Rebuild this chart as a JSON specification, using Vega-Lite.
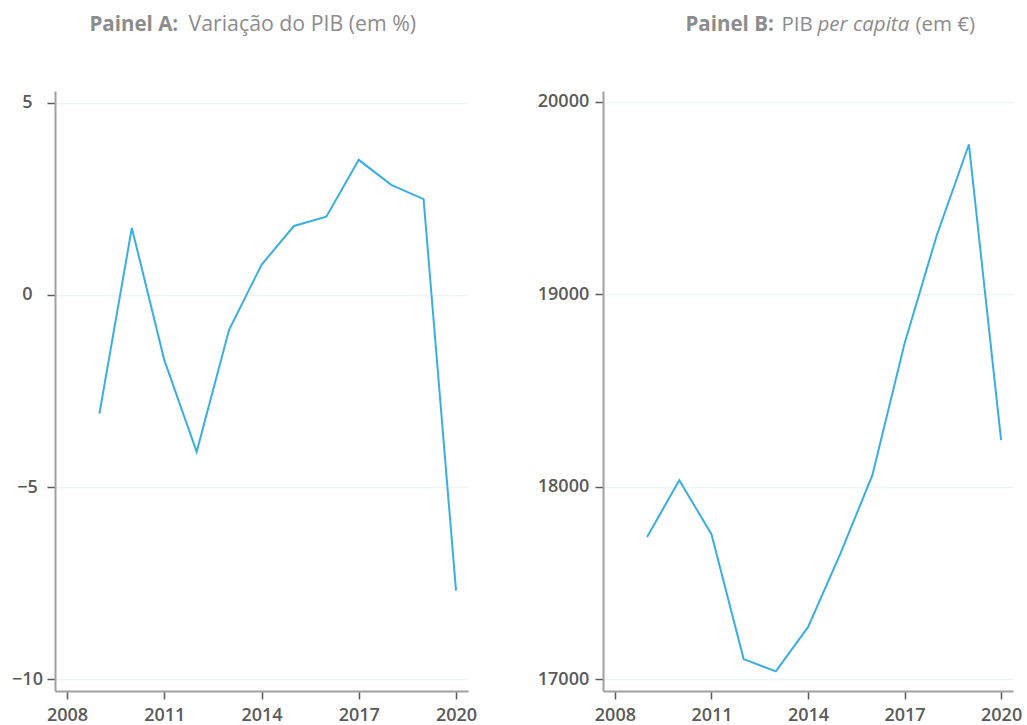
{
  "$schema": "https://vega.github.io/schema/vega-lite/v6.json",
  "padding": {"left": 11, "top": 13, "right": 0, "bottom": 0},
  "background": "white",
  "spacing": 60,
  "config": {
    "font": "Open Sans",
    "view": {"stroke": null},
    "axis": {
      "domainColor": "#a0a0a0",
      "domainWidth": 2,
      "tickColor": "#5a5a5a",
      "tickWidth": 1.5,
      "tickSize": 8,
      "labelFont": "Open Sans",
      "labelFontSize": 18,
      "labelFontWeight": 600,
      "labelColor": "#5a5a5a",
      "gridColor": "#eef4f4",
      "gridWidth": 1.5,
      "titleFont": "Open Sans",
      "titleFontSize": 20.5,
      "titleColor": "#8c8c8c"
    }
  },
  "datasets": {
    "pib": [
      {"ano": 2009, "var": -3.09, "pc": 17738},
      {"ano": 2010, "var": 1.74, "pc": 18034},
      {"ano": 2011, "var": -1.69, "pc": 17753},
      {"ano": 2012, "var": -4.08, "pc": 17104},
      {"ano": 2013, "var": -0.91, "pc": 17040},
      {"ano": 2014, "var": 0.78, "pc": 17270},
      {"ano": 2015, "var": 1.79, "pc": 17649},
      {"ano": 2016, "var": 2.03, "pc": 18060},
      {"ano": 2017, "var": 3.51, "pc": 18745},
      {"ano": 2018, "var": 2.86, "pc": 19306},
      {"ano": 2019, "var": 2.49, "pc": 19779},
      {"ano": 2020, "var": -7.69, "pc": 18242}
    ]
  },
  "hconcat": [
    {
      "width": 413,
      "height": 600,
      "data": {"name": "pib"},
      "resolve": {"axis": {"x": "independent", "y": "independent"}},
      "layer": [
        {
          "mark": {"type": "line", "color": "#3aaee3", "strokeWidth": 2},
          "encoding": {
            "x": {"field": "ano", "type": "quantitative",
                  "scale": {"domain": [2007.63, 2020.37], "nice": false, "zero": false},
                  "axis": {"orient": "bottom", "values": [2008, 2011, 2014, 2017, 2020], "format": "d", "grid": false, "title": null, "labelPadding": 7}},
            "y": {"field": "var", "type": "quantitative",
                  "scale": {"domain": [-10.3, 5.3], "nice": false, "zero": false},
                  "axis": {"orient": "left", "values": [-10, -5, 0, 5], "grid": true, "title": null, "labelAlign": "center", "labelPadding": 20}}
          }
        },
        {
          "mark": {"type": "line", "opacity": 0},
          "encoding": {
            "x": {"field": "ano", "type": "quantitative",
                  "axis": {"orient": "top", "domain": false, "ticks": false, "labels": false, "grid": false,
                           "title": "Painel A:", "titleFontWeight": "bold", "titleAlign": "left", "titleAnchor": null, "titleBaseline": "alphabetic", "titleX": 34, "titleY": -61}},
            "y": {"field": "var", "type": "quantitative",
                  "axis": {"orient": "right", "domain": false, "ticks": false, "labels": false, "grid": false,
                           "title": "Variação do PIB (em %)", "titleFontWeight": "normal", "titleFontSize": 21.3, "titleAngle": 0, "titleAlign": "left", "titleAnchor": null, "titleBaseline": "alphabetic", "titleX": -280, "titleY": -61}}
          }
        }
      ]
    },
    {
      "width": 410,
      "height": 600,
      "data": {"name": "pib"},
      "resolve": {"axis": {"x": "independent", "y": "independent"}},
      "layer": [
        {
          "mark": {"type": "line", "color": "#3aaee3", "strokeWidth": 2},
          "encoding": {
            "x": {"field": "ano", "type": "quantitative",
                  "scale": {"domain": [2007.63, 2020.37], "nice": false, "zero": false},
                  "axis": {"orient": "bottom", "values": [2008, 2011, 2014, 2017, 2020], "format": "d", "grid": false, "title": null, "labelPadding": 7}},
            "y": {"field": "pc", "type": "quantitative",
                  "scale": {"domain": [16938, 20057], "nice": false, "zero": false},
                  "axis": {"orient": "left", "values": [17000, 18000, 19000, 20000], "format": "d", "grid": true, "title": null, "labelAlign": "center", "labelPadding": 32}}
          }
        },
        {
          "mark": {"type": "line", "opacity": 0},
          "encoding": {
            "x": {"field": "ano", "type": "quantitative",
                  "axis": {"orient": "top", "domain": false, "ticks": false, "labels": false, "grid": false,
                           "title": "Painel B:", "titleFontWeight": "bold", "titleAlign": "left", "titleAnchor": null, "titleBaseline": "alphabetic", "titleX": 82, "titleY": -61}},
            "y": {"field": "pc", "type": "quantitative",
                  "axis": {"orient": "right", "domain": false, "ticks": false, "labels": false, "grid": false,
                           "title": "PIB", "titleFontWeight": "normal", "titleAngle": 0, "titleAlign": "left", "titleAnchor": null, "titleBaseline": "alphabetic", "titleX": -232, "titleY": -61}}
          }
        },
        {
          "mark": {"type": "line", "opacity": 0},
          "encoding": {
            "x": {"field": "ano", "type": "quantitative",
                  "axis": {"orient": "top", "domain": false, "ticks": false, "labels": false, "grid": false,
                           "title": "per capita", "titleFontWeight": "normal", "titleFontStyle": "italic", "titleAlign": "left", "titleAnchor": null, "titleBaseline": "alphabetic", "titleX": 214, "titleY": -61}},
            "y": {"field": "pc", "type": "quantitative",
                  "axis": {"orient": "right", "domain": false, "ticks": false, "labels": false, "grid": false,
                           "title": "(em €)", "titleFontWeight": "normal", "titleAngle": 0, "titleAlign": "left", "titleAnchor": null, "titleBaseline": "alphabetic", "titleX": -98, "titleY": -61}}
          }
        }
      ]
    }
  ]
}
